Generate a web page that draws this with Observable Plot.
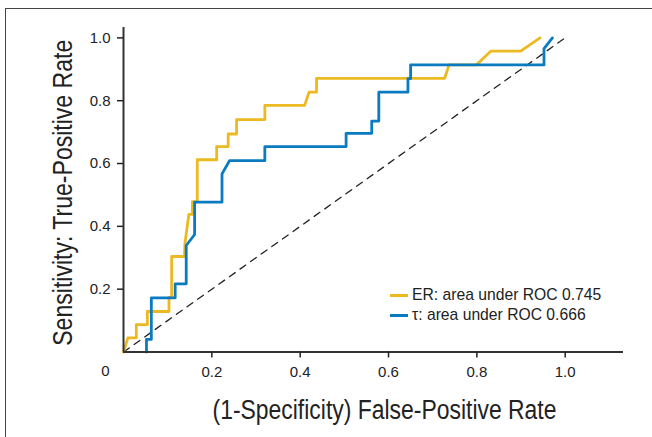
<!DOCTYPE html>
<html>
<head>
<meta charset="utf-8">
<script src="https://cdn.jsdelivr.net/npm/d3@7"></script>
<script src="https://cdn.jsdelivr.net/npm/@observablehq/plot@0.6"></script>
<style>
  html, body { margin: 0; padding: 0; background: #fff; }
  #wrap { position: relative; width: 652px; height: 437px; overflow: hidden; }
  #border { position: absolute; left: 5px; top: 8px; width: 700px; height: 500px;
            border-left: 1.3px solid #444; border-top: 1.3px solid #444; box-sizing: border-box; }
  #legend { position: absolute; left: 390px; top: 285px; font-family: "Liberation Sans", Arial, sans-serif;
            font-size: 15.7px; color: #222; }
  .row { display: flex; align-items: center; height: 20px; }
  .sw { width: 18px; height: 3px; margin-right: 4px; }
</style>
</head>
<body>
<div id="wrap"><div id="border"></div><div id="chart"></div><div id="legend"></div></div>
<script>
// ER curve (false-positive rate, true-positive rate)
const erFpr = [0, 0.010, 0.029, 0.029, 0.054, 0.054, 0.103, 0.103, 0.109, 0.109, 0.138, 0.139, 0.148, 0.156, 0.156, 0.167, 0.167, 0.211, 0.211, 0.237, 0.237, 0.256, 0.256, 0.320, 0.320, 0.410, 0.420, 0.437, 0.437, 0.727, 0.737, 0.799, 0.832, 0.899, 0.943];
const erTpr = [0, 0.045, 0.045, 0.087, 0.087, 0.129, 0.129, 0.174, 0.174, 0.304, 0.304, 0.345, 0.438, 0.438, 0.479, 0.479, 0.612, 0.612, 0.654, 0.654, 0.694, 0.694, 0.740, 0.740, 0.785, 0.785, 0.827, 0.827, 0.871, 0.871, 0.914, 0.914, 0.958, 0.958, 1.0];
// tau curve
const tauFpr = [0.052, 0.052, 0.063, 0.063, 0.117, 0.117, 0.142, 0.142, 0.161, 0.161, 0.223, 0.223, 0.240, 0.320, 0.320, 0.504, 0.504, 0.562, 0.562, 0.578, 0.578, 0.644, 0.644, 0.650, 0.650, 0.952, 0.952, 0.971];
const tauTpr = [0, 0.040, 0.040, 0.172, 0.172, 0.217, 0.217, 0.339, 0.374, 0.477, 0.477, 0.567, 0.609, 0.609, 0.654, 0.654, 0.696, 0.696, 0.735, 0.735, 0.827, 0.827, 0.870, 0.870, 0.914, 0.914, 0.966, 1.0];
// chance diagonal
const diagX = [0, 1];
const diagY = [0, 1];

const seriesNames = ["ER", "τ"];
const seriesColors = ["#EDB921", "#0A7BC1"];
const legendLabels = ["ER: area under ROC 0.745", "τ: area under ROC 0.666"];

const xTicks = [0.2, 0.4, 0.6, 0.8, 1.0];
const yTicks = [0.2, 0.4, 0.6, 0.8, 1.0];
const cornerLabel = "0";
const xTitle = "(1-Specificity) False-Positive Rate";
const yTitle = "Sensitivity: True-Positive Rate";

const toPts = (xs, ys) => xs.map((x, i) => ({x, y: ys[i]}));
const er = toPts(erFpr, erTpr);
const tau = toPts(tauFpr, tauTpr);
const diag = toPts(diagX, diagY);

const labelFont = '"Liberation Sans", Arial, sans-serif';

const chart = Plot.plot({
  width: 652,
  height: 437,
  marginLeft: 123,
  marginRight: 29,
  marginTop: 27,
  marginBottom: 85.5,
  x: {domain: [0, 1.132], axis: null},
  y: {domain: [0, 1.033], axis: null},
  style: {fontFamily: '"Liberation Sans", Arial, sans-serif', fontSize: "15px", color: "#222", background: "transparent"},
  marks: [
    Plot.line(diag, {x: "x", y: "y", stroke: "#222", strokeWidth: 1.3, strokeDasharray: "7,6"}),
    Plot.line(er, {x: "x", y: "y", stroke: seriesColors[0], strokeWidth: 2.8}),
    Plot.line(tau, {x: "x", y: "y", stroke: seriesColors[1], strokeWidth: 2.8}),
    Plot.ruleX([0], {stroke: "#333", strokeWidth: 2}),
    Plot.ruleY([0], {stroke: "#333", strokeWidth: 2}),
    Plot.axisX({ticks: xTicks, tickSize: 6, tickPadding: 8, tickFormat: d => d.toFixed(1), label: null, strokeWidth: 1.5}),
    Plot.axisY({ticks: yTicks, tickSize: 6, tickPadding: 7, tickFormat: d => d.toFixed(1), label: null, strokeWidth: 1.5}),
    Plot.text([cornerLabel], {x: 0, y: 0, text: d => d, dx: -18, dy: 19}),
    Plot.text([xTitle], {frameAnchor: "bottom", text: d => d, textAnchor: "middle", lineAnchor: "middle", dx: 11, dy: 58, fontSize: 27, fontFamily: labelFont, fill: "#222", className: "xtitle"}),
    Plot.text([yTitle], {frameAnchor: "left", text: d => d, textAnchor: "middle", lineAnchor: "middle", dx: -60, dy: 3, rotate: -90, fontSize: 27, fontFamily: labelFont, fill: "#222", className: "ytitle"})
  ]
});
document.getElementById("chart").appendChild(chart);

// enlarge tick labels (and the corner "0") to match the reference
d3.select(chart).selectAll("text")
  .filter(function() { return /^\d(\.\d)?$/.test(this.textContent.trim()); })
  .style("font-size", "15px");

// condense the axis titles to match the narrow typeface of the reference
d3.select(chart).selectAll(".xtitle text").attr("textLength", 344).attr("lengthAdjust", "spacingAndGlyphs");
d3.select(chart).selectAll(".ytitle text").attr("textLength", 306).attr("lengthAdjust", "spacingAndGlyphs");

const legend = document.getElementById("legend");
legendLabels.forEach((lab, i) => {
  const row = document.createElement("div");
  row.className = "row";
  const sw = document.createElement("span");
  sw.className = "sw";
  sw.style.background = seriesColors[i];
  const t = document.createElement("span");
  t.textContent = lab;
  row.appendChild(sw);
  row.appendChild(t);
  legend.appendChild(row);
});
</script>
</body>
</html>
